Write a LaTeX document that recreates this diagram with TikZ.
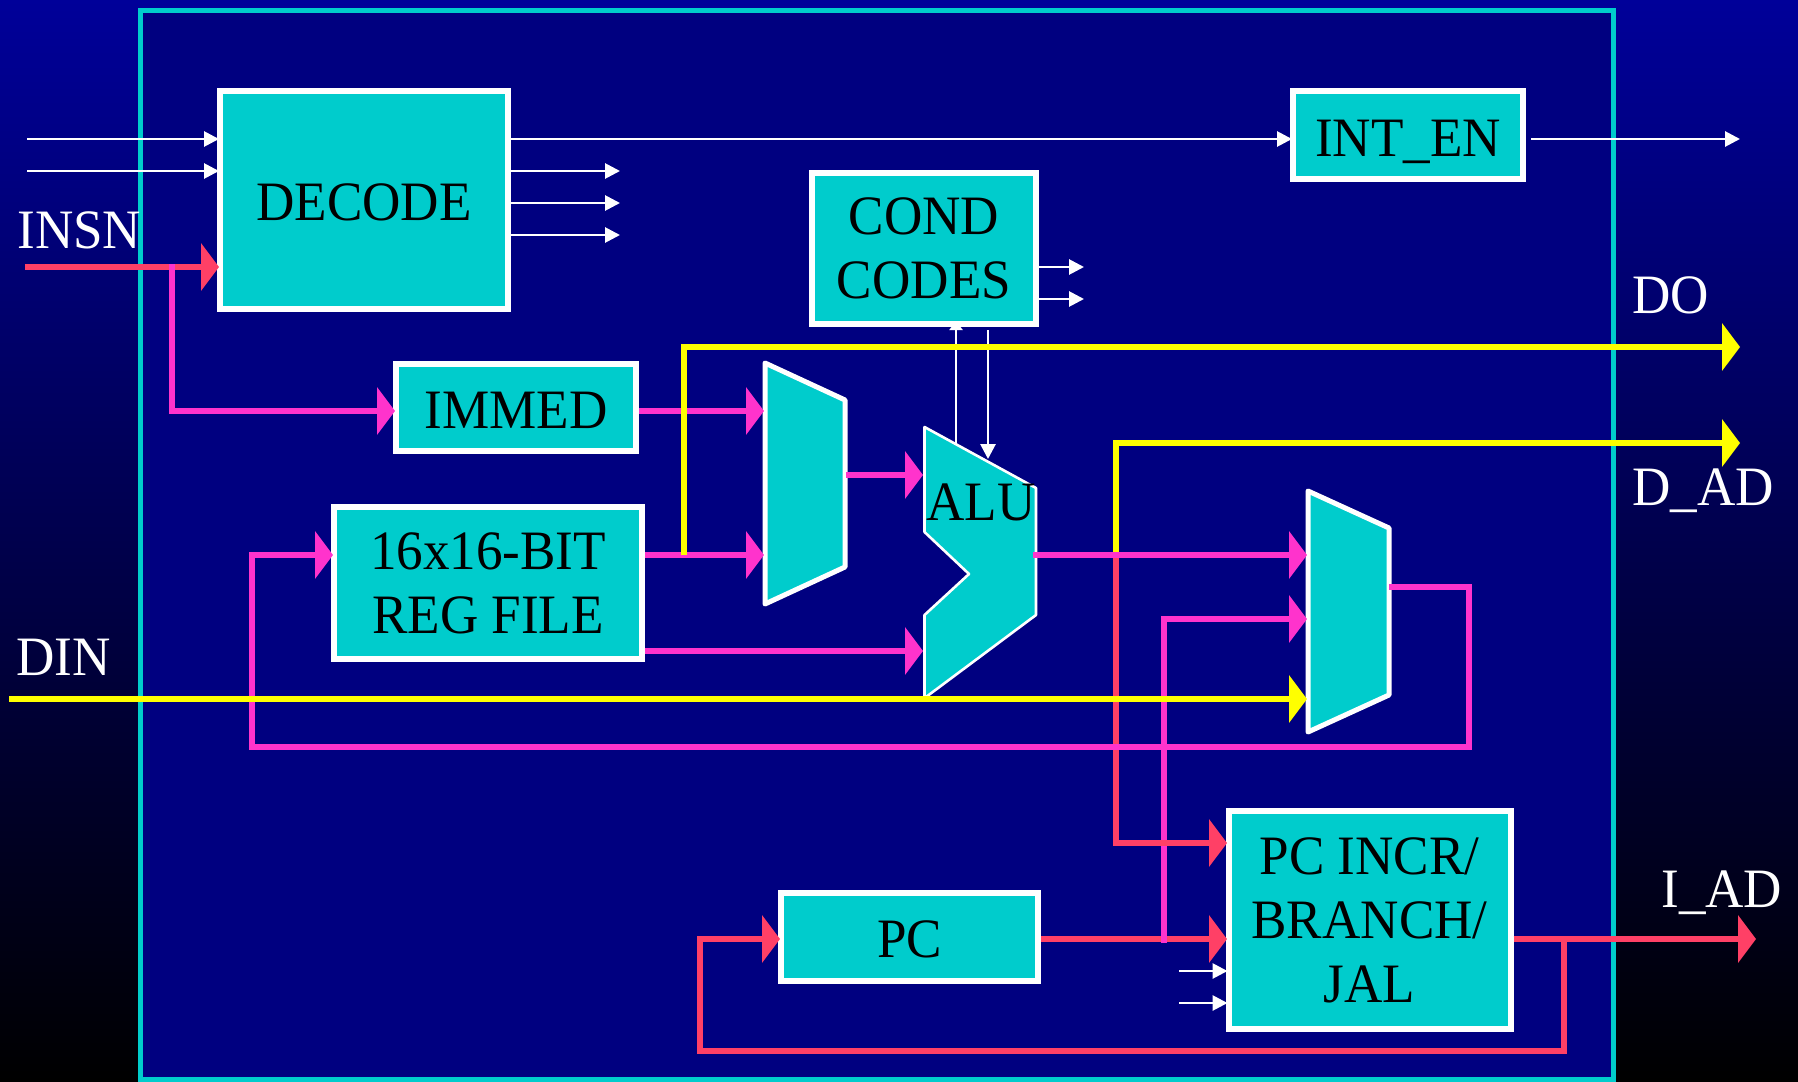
\documentclass[tikz,border=0pt]{standalone}
\usepackage{fontspec}
\setmainfont[FakeStretch=0.955]{Liberation Serif}
\usetikzlibrary{arrows.meta}
\definecolor{CpuTeal}{HTML}{00CCCC}
\definecolor{CpuNavy}{HTML}{000080}
\definecolor{CpuTop}{HTML}{000099}
\definecolor{CpuMagenta}{HTML}{FF33CC}
\definecolor{CpuRed}{HTML}{FF4066}
\definecolor{CpuYellow}{HTML}{FFFF00}
\begin{document}
\begin{tikzpicture}[
    x=0.5pt,y=-0.5pt,
    txt/.style={font=\fontsize{27.8}{32}\selectfont},
    box/.style={txt,draw=white,fill=CpuTeal,line width=3pt,inner sep=0pt,align=center,execute at begin node={\rule{0pt}{21pt}}},
    tallbox/.style={box,execute at begin node={\rule{0pt}{23.5pt}}},
    muxbox/.style={draw=white,fill=CpuTeal,line width=2.5pt,line join=round},
    alubox/.style={draw=white,fill=CpuTeal,line width=1.3pt,line join=round},
    pinname/.style={txt,text=white,inner sep=0pt,anchor=base west},
    thinwire/.style={-{Triangle[length=7.5pt,width=7.5pt]},draw=white,line width=1.4pt,shorten >=-1pt},
    bus/.style={-{Triangle[length=9pt,width=23.5pt]},line width=3pt,shorten >=-1pt},
    magbus/.style={bus,draw=CpuMagenta},
    redbus/.style={bus,draw=CpuRed},
    yelbus/.style={bus,draw=CpuYellow}
  ]
    \useasboundingbox (0,0) rectangle (1798,1081);
    \shade[top color=CpuTop,bottom color=black] (0,0) rectangle (1798,1081);
    \node[draw=CpuTeal,fill=CpuNavy,line width=2.5pt,minimum width=736.5pt,minimum height=534pt] (chip) at (876.5,545) {};

    % blocks
    \node[box,minimum width=144pt,minimum height=109pt] (decode) at (364,200) {DECODE};
    \node[box,text depth=0pt,minimum width=115pt,minimum height=44pt] (intEn) at (1408,135) {INT\_EN};
    \node[tallbox,minimum width=112pt,minimum height=75.5pt] (cond) at (924,248.5) {COND\\CODES};
    \node[box,minimum width=120pt,minimum height=43.5pt] (immed) at (516,407.5) {IMMED};
    \node[tallbox,minimum width=154pt,minimum height=76pt] (regfile) at (488,583) {16x16-BIT\\REG FILE};
    \node[box,minimum width=128.5pt,minimum height=44pt] (pc) at (909.5,936.5) {PC};
    \node[tallbox,minimum width=141pt,minimum height=109pt] (pcincr) at (1369.5,920) {PC INCR/\\BRANCH/\\JAL};

    % muxes and alu
    \draw[muxbox] (765,363) -- (845,400) -- (845,567) -- (765,604) -- cycle;
    \draw[muxbox] (1308,491) -- (1389,528) -- (1389,695) -- (1308,732) -- cycle;
    \draw[alubox] (924.5,427) -- (1036,488) -- (1036,615) -- (926,697) -- (924.5,697) -- (924.5,615) -- (969,574) -- (924.5,532) -- cycle;
    \node[txt,inner sep=0pt,anchor=base] (alu) at (981,520) {ALU};

    % pins
    \coordinate (insnin) at (25,267);
    \coordinate (insntap) at (172,264);
    \coordinate (ctrlin1) at (27,139);
    \coordinate (ctrlin2) at (27,171);
    \coordinate (decout1) at (618,171);
    \coordinate (decout2) at (618,203);
    \coordinate (decout3) at (618,235);
    \coordinate (intout) at (1738,139);
    \coordinate (condout1) at (1082,267);
    \coordinate (condout2) at (1082,299);
    \coordinate (flagsout) at (956,444);
    \coordinate (flagsintop) at (988,330);
    \coordinate (flagsin) at (988,457);
    \coordinate (muxAin1) at (762,411);
    \coordinate (muxAin2) at (762,555);
    \coordinate (muxAout) at (846,475);
    \coordinate (aluin1) at (921,475);
    \coordinate (aluin2) at (921,651);
    \coordinate (aluout) at (1033,555);
    \coordinate (muxBin1) at (1305,555);
    \coordinate (muxBin2) at (1305,619);
    \coordinate (muxBin3) at (1305,699);
    \coordinate (muxBout) at (1389,587);
    \coordinate (fbright) at (1469,747);
    \coordinate (fbleft) at (252,747);
    \coordinate (dintop) at (9,699);
    \coordinate (dotap) at (684,555);
    \coordinate (doout) at (1738,347);
    \coordinate (dadtap) at (1116,558);
    \coordinate (dadout) at (1738,443);
    \coordinate (pcincrin1) at (1225,843);
    \coordinate (pcincrin2) at (1225,939);
    \coordinate (pcincrin3) at (1179,971);
    \coordinate (pcincrin4) at (1179,1003);
    \coordinate (pctap) at (1164,943);
    \coordinate (iadtap) at (1564,939);
    \coordinate (iadout) at (1754,939);
    \coordinate (pcfbleft) at (700,1051);

    % control wires
    \draw[thinwire] (ctrlin1) -- (decode.west |- ctrlin1);
    \draw[thinwire] (ctrlin2) -- (decode.west |- ctrlin2);
    \draw[thinwire] (decode.east |- ctrlin1) -- (intEn.west |- ctrlin1);
    \draw[thinwire,shorten <=2.5pt] (intEn.east |- ctrlin1) -- (intout);
    \draw[thinwire] (decode.east |- decout1) -- (decout1);
    \draw[thinwire] (decode.east |- decout2) -- (decout2);
    \draw[thinwire] (decode.east |- decout3) -- (decout3);
    \draw[thinwire] (cond.east |- condout1) -- (condout1);
    \draw[thinwire] (cond.east |- condout2) -- (condout2);
    \draw[-{Triangle[length=4.5pt,width=6.5pt]},draw=white,line width=1.4pt,shorten >=-3pt] (flagsout) -- (cond.south -| flagsout);
    \draw[thinwire] (flagsintop) -- (flagsin);
    \draw[thinwire] (pcincrin3) -- (pcincr.west |- pcincrin3);
    \draw[thinwire] (pcincrin4) -- (pcincr.west |- pcincrin4);

    % buses
    \draw[redbus] (insnin) -- (decode.west |- insnin);
    \draw[magbus] (insntap) |- (immed.west |- muxAin1);
    \draw[magbus] (immed.east |- muxAin1) -- (muxAin1);
    \draw[magbus] (regfile.east |- muxAin2) -- (muxAin2);
    \draw[magbus] (regfile.east |- aluin2) -- (aluin2);
    \draw[magbus] (muxAout) -- (aluin1);
    \draw[redbus] (pc.east |- pcincrin2) -- (pcincrin2);
    \draw[magbus] (pctap) |- (muxBin2);
    \draw[redbus] (dadtap) |- (pcincrin1);
    \draw[redbus] (pcincr.east |- iadout) -- (iadout);
    \draw[redbus] (iadtap) |- (pcfbleft) |- (pc.west |- pcincrin2);
    \draw[magbus] (muxBout) -| (fbright) -- (fbleft) |- (regfile.west |- muxAin2);
    \draw[yelbus] (dotap) |- (doout);
    \draw[yelbus] (dadtap) |- (dadout);
    \draw[yelbus] (dintop) -- (muxBin3);
    \draw[magbus] (aluout) -- (muxBin1);

    % names of the pins
    \node[pinname] (insn) at (17,248) {INSN};
    \node[pinname] (din) at (16,675) {DIN};
    \node[pinname] (dout) at (1632,313) {DO};
    \node[pinname] (dad) at (1632,505) {D\_AD};
    \node[pinname] (iad) at (1661,907) {I\_AD};
  \end{tikzpicture}
\end{document}
